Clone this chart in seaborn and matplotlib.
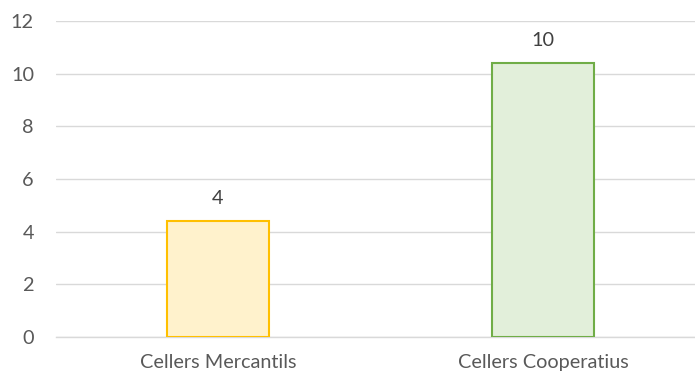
import matplotlib
matplotlib.use("Agg")
import matplotlib.pyplot as plt
import seaborn as sns
import pandas as pd

categories = ["Cellers Mercantils", "Cellers Cooperatius"]
values = [4.4, 10.4]
fill_colors = ["#FFF2CC", "#E2EFDA"]
edge_colors = ["#FFC000", "#70AD47"]
y_ticks = [0, 2, 4, 6, 8, 10, 12]

sns.set_theme(style="white")
plt.rcParams["font.family"] = ["Lato", "DejaVu Sans"]

W, H = 695, 378
fig = plt.figure(figsize=(W / 100, H / 100), dpi=100)
left, right, bottom_px, top_px = 55.5, 705.5, 337, 21
ax = fig.add_axes([left / W, (H - bottom_px) / H, (right - left) / W, (bottom_px - top_px) / H])

df = pd.DataFrame({"cat": categories, "val": values})
sns.barplot(data=df, x="cat", y="val", ax=ax, width=0.314, zorder=3)

for patch, fc, ec in zip(ax.patches, fill_colors, edge_colors):
    patch.set_facecolor(fc)
    patch.set_edgecolor(ec)
    patch.set_linewidth(1.5)

FS = 14.3
for patch, v in zip(ax.patches, values):
    ax.annotate(f"{v:.0f}", (patch.get_x() + patch.get_width() / 2, patch.get_height()),
                xytext=(0, 10), textcoords="offset points", ha="center", va="bottom",
                fontsize=FS, color="#404040")

ax.set_xlim(-0.5, 1.5)
ax.set_ylim(0, 12)
ax.set_yticks(y_ticks)
ax.set_yticklabels([str(t) for t in y_ticks])
ax.set_xlabel("")
ax.set_ylabel("")
ax.yaxis.grid(True, color="#D9D9D9", linewidth=1.0, zorder=0)
ax.set_axisbelow(True)
for s in ["top", "right", "left"]:
    ax.spines[s].set_visible(False)
ax.spines["bottom"].set_color("#D9D9D9")
ax.spines["bottom"].set_linewidth(1.0)
ax.tick_params(axis="y", length=0, pad=15.5, labelsize=FS, labelcolor="#595959")
ax.tick_params(axis="x", length=0, pad=12, labelsize=FS, labelcolor="#595959")

fig.savefig("out.png", dpi=100)
